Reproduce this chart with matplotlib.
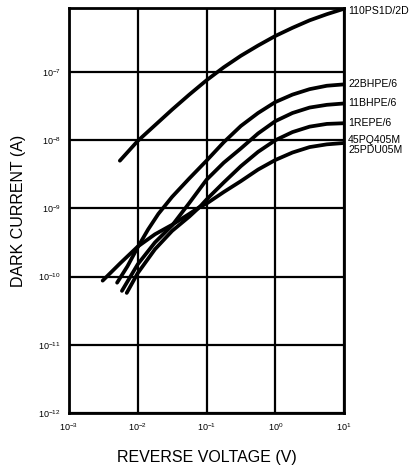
import matplotlib
matplotlib.use("Agg")
import matplotlib.pyplot as plt
import numpy as np

plt.rcParams['font.family'] = ['Liberation Sans', 'DejaVu Sans']

# values (log10 of voltage, log10 of current)
ps110_x = [-2.26, -2.0, -1.75, -1.5, -1.25, -1.0, -0.75, -0.5, -0.25, 0.0, 0.25, 0.5, 0.75, 1.0]
ps110_y = [-8.30, -8.01, -7.78, -7.55, -7.33, -7.12, -6.93, -6.76, -6.61, -6.47, -6.35, -6.24, -6.15, -6.07]

bh22_x = [-2.30, -2.15, -2.0, -1.85, -1.7, -1.5, -1.25, -1.0, -0.75, -0.5, -0.25, 0.0, 0.25, 0.5, 0.75, 1.0]
bh22_y = [-10.09, -9.85, -9.57, -9.31, -9.08, -8.83, -8.56, -8.30, -8.03, -7.79, -7.60, -7.44, -7.33, -7.25, -7.20, -7.18]

bh11_x = [-2.23, -2.0, -1.75, -1.5, -1.25, -1.0, -0.75, -0.5, -0.25, 0.0, 0.25, 0.5, 0.75, 1.0]
bh11_y = [-10.21, -9.82, -9.50, -9.25, -8.92, -8.58, -8.33, -8.12, -7.90, -7.72, -7.60, -7.52, -7.48, -7.46]

re1_x = [-2.16, -2.0, -1.75, -1.5, -1.25, -1.1, -1.0, -0.75, -0.5, -0.25, 0.0, 0.25, 0.5, 0.75, 1.0]
re1_y = [-10.24, -9.95, -9.60, -9.33, -9.12, -8.98, -8.87, -8.62, -8.38, -8.17, -8.00, -7.88, -7.80, -7.76, -7.75]

pq45_x = [-2.51, -2.25, -2.0, -1.75, -1.5, -1.25, -1.1, -1.0, -0.75, -0.5, -0.25, 0.0, 0.25, 0.5, 0.75, 1.0]
pq45_y = [-10.06, -9.80, -9.56, -9.38, -9.24, -9.08, -8.98, -8.93, -8.76, -8.60, -8.43, -8.29, -8.18, -8.10, -8.06, -8.04]

series = [(ps110_x, ps110_y), (bh22_x, bh22_y), (bh11_x, bh11_y), (re1_x, re1_y), (pq45_x, pq45_y)]

labels = ['110PS1D/2D', '22BHPE/6', '11BHPE/6', '1REPE/6', '45PQ405M\n25PDU05M']
label_y = [-6.1, -7.17, -7.45, -7.74, -8.07]

fig = plt.figure(figsize=(4.13, 4.74), dpi=100)
ax = fig.add_axes([0.167, 0.129, 0.666, 0.854])

for xs, ys in series:
    ax.plot(10 ** np.array(xs), 10 ** np.array(ys), color='black', lw=2.7,
            solid_capstyle='round', solid_joinstyle='round')

ax.set_xscale('log')
ax.set_yscale('log')
ax.set_xlim(1e-3, 1e1)
ax.set_ylim(1e-12, 10 ** -6.06)
ax.set_xticks([1e-3, 1e-2, 1e-1, 1e0, 1e1])
ax.set_yticks([1e-12, 1e-11, 1e-10, 1e-9, 1e-8, 1e-7])
ax.minorticks_off()
ax.grid(True, color='black', lw=1.6)
ax.tick_params(length=0, labelsize=6.5, pad=6)
for s in ax.spines.values():
    s.set_linewidth(2)

for lab, ly in zip(labels, label_y):
    ax.text(1.015, 10 ** ly, lab, transform=ax.get_yaxis_transform(),
            fontsize=7.6, va='center', ha='left', linespacing=0.9, clip_on=False)

ax.set_xlabel('REVERSE VOLTAGE (V)', fontsize=11.5, labelpad=12)
ax.set_ylabel('DARK CURRENT (A)', fontsize=11.5, labelpad=9)

fig.savefig('out.png', dpi=100)
